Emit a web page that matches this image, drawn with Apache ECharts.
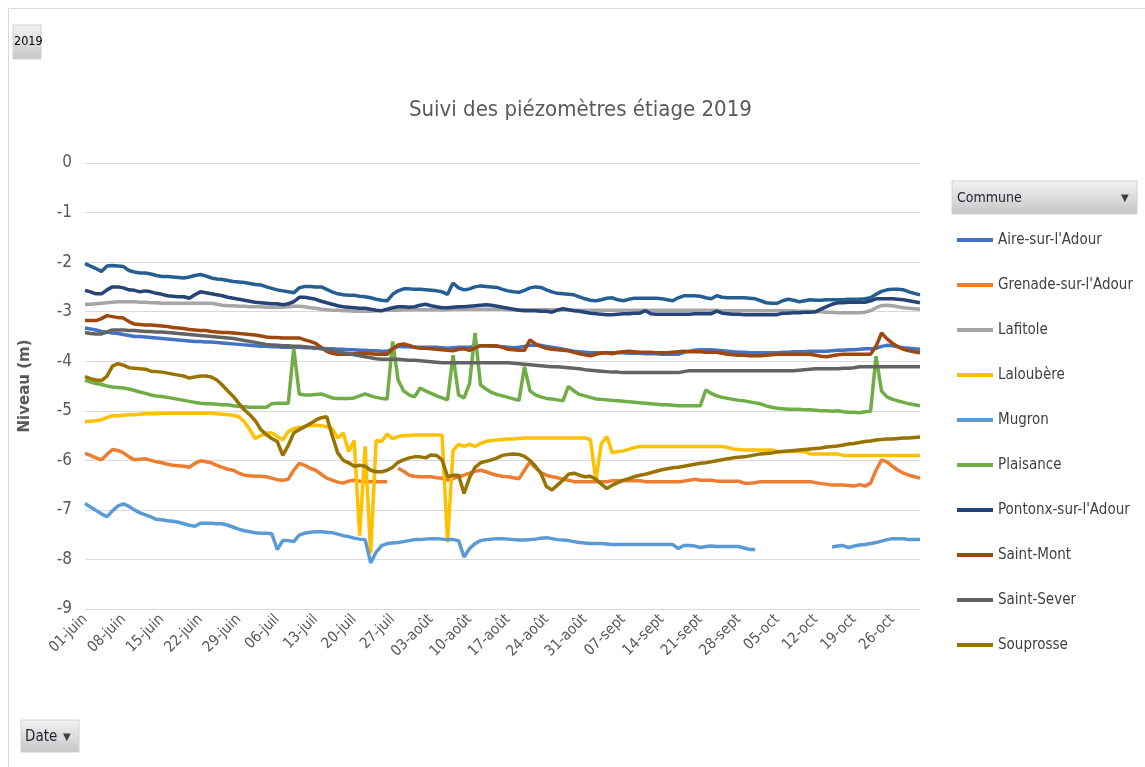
<!DOCTYPE html>
<html>
<head>
    <meta charset="utf-8">
    <title>Suivi des piézomètres étiage 2019</title>
    <script src="https://cdn.jsdelivr.net/npm/echarts/dist/echarts.min.js"></script>
    <style>
        html, body { margin: 0; padding: 0; background: #fff; }
        #main { width: 1145px; height: 767px; }
    </style>
</head>
<body>
<div id="main"></div>
<script type="text/javascript">
    // jours du 1er juin au 31 octobre 2019
    var months = ['juin', 'juil', 'août', 'sept', 'oct'];
    var monthDays = [30, 31, 31, 30, 31];
    var yTicks = [-9, -8, -7, -6, -5, -4, -3, -2, -1, 0];

    // niveaux (m), un point par jour
    var aireSurLAdour = [
        -3.33,-3.35,-3.37,-3.40,-3.41,-3.43,-3.44,-3.46,-3.48,-3.50,
        -3.50,-3.51,-3.52,-3.53,-3.54,-3.55,-3.56,-3.57,-3.58,-3.59,
        -3.60,-3.60,-3.61,-3.61,-3.62,-3.63,-3.64,-3.65,-3.66,-3.67,
        -3.68,-3.69,-3.70,-3.70,-3.71,-3.71,-3.72,-3.72,-3.72,-3.72,
        -3.73,-3.73,-3.74,-3.74,-3.75,-3.75,-3.76,-3.76,-3.77,-3.77,
        -3.78,-3.78,-3.79,-3.79,-3.80,-3.80,-3.75,-3.70,-3.71,-3.71,
        -3.72,-3.72,-3.72,-3.72,-3.72,-3.73,-3.74,-3.73,-3.72,-3.72,
        -3.72,-3.70,-3.69,-3.69,-3.70,-3.70,-3.71,-3.72,-3.73,-3.72,
        -3.70,-3.68,-3.68,-3.68,-3.70,-3.72,-3.74,-3.76,-3.78,-3.80,
        -3.81,-3.82,-3.83,-3.83,-3.83,-3.83,-3.83,-3.83,-3.83,-3.84,
        -3.84,-3.84,-3.85,-3.85,-3.85,-3.86,-3.86,-3.86,-3.86,-3.82,
        -3.80,-3.78,-3.77,-3.77,-3.77,-3.78,-3.79,-3.80,-3.81,-3.82,
        -3.82,-3.83,-3.83,-3.83,-3.83,-3.83,-3.83,-3.82,-3.82,-3.81,
        -3.81,-3.81,-3.80,-3.80,-3.80,-3.80,-3.79,-3.78,-3.78,-3.77,
        -3.77,-3.76,-3.75,-3.75,-3.74,-3.70,-3.68,-3.69,-3.71,-3.73,
        -3.74,-3.75,-3.76
    ];
    var grenadeSurLAdour = [
        -5.86,-5.90,-5.95,-5.99,-5.88,-5.78,-5.80,-5.85,-5.93,-5.99,
        -5.98,-5.97,-6.00,-6.03,-6.05,-6.08,-6.10,-6.11,-6.12,-6.14,
        -6.06,-6.01,-6.03,-6.05,-6.10,-6.14,-6.18,-6.20,-6.26,-6.30,
        -6.31,-6.32,-6.32,-6.33,-6.36,-6.39,-6.40,-6.38,-6.20,-6.06,
        -6.10,-6.16,-6.20,-6.28,-6.36,-6.40,-6.44,-6.46,-6.42,-6.40,
        -6.42,-6.43,-6.43,-6.43,-6.43,-6.43,null,-6.16,-6.22,-6.30,
        -6.32,-6.33,-6.33,-6.33,-6.35,-6.36,-6.40,-6.37,-6.33,-6.30,
        -6.26,-6.22,-6.20,-6.23,-6.27,-6.30,-6.32,-6.33,-6.35,-6.37,
        -6.20,-6.03,-6.15,-6.25,-6.30,-6.33,-6.35,-6.38,-6.40,-6.43,
        -6.43,-6.43,-6.43,-6.43,-6.43,-6.43,-6.41,-6.41,-6.41,-6.41,
        -6.41,-6.41,-6.43,-6.43,-6.43,-6.43,-6.43,-6.43,-6.43,-6.42,
        -6.40,-6.38,-6.40,-6.40,-6.40,-6.42,-6.42,-6.42,-6.42,-6.42,
        -6.46,-6.46,-6.45,-6.43,-6.43,-6.43,-6.43,-6.43,-6.43,-6.43,
        -6.43,-6.43,-6.43,-6.45,-6.47,-6.48,-6.50,-6.50,-6.50,-6.51,
        -6.52,-6.49,-6.52,-6.46,-6.20,-5.99,-6.03,-6.12,-6.20,-6.26,
        -6.30,-6.33,-6.36
    ];
    var lafitole = [
        -2.85,-2.85,-2.84,-2.83,-2.82,-2.81,-2.80,-2.80,-2.80,-2.80,
        -2.81,-2.81,-2.82,-2.82,-2.83,-2.83,-2.83,-2.83,-2.83,-2.83,
        -2.83,-2.83,-2.83,-2.83,-2.85,-2.87,-2.88,-2.88,-2.89,-2.89,
        -2.90,-2.90,-2.90,-2.91,-2.91,-2.91,-2.91,-2.90,-2.89,-2.89,
        -2.90,-2.92,-2.93,-2.95,-2.96,-2.97,-2.97,-2.98,-2.98,-2.99,
        -2.99,-2.99,-2.99,-2.98,-2.98,-2.97,-2.97,-2.97,-2.96,-2.96,
        -2.96,-2.96,-2.96,-2.96,-2.96,-2.96,-2.96,-2.95,-2.95,-2.95,
        -2.95,-2.95,-2.95,-2.95,-2.95,-2.95,-2.95,-2.96,-2.96,-2.96,
        -2.96,-2.96,-2.96,-2.96,-2.96,-2.96,-2.96,-2.96,-2.96,-2.97,
        -2.97,-2.97,-2.97,-2.97,-2.97,-2.97,-2.97,-2.97,-2.97,-2.97,
        -2.97,-2.97,-2.97,-2.97,-2.97,-2.97,-2.97,-2.97,-2.97,-2.97,
        -2.97,-2.97,-2.97,-2.97,-2.97,-2.97,-2.98,-2.98,-2.98,-2.98,
        -2.98,-2.98,-2.98,-2.98,-2.98,-2.98,-2.98,-2.98,-2.98,-2.98,
        -2.99,-2.99,-2.99,-3.00,-3.00,-3.01,-3.01,-3.02,-3.02,-3.02,
        -3.02,-3.02,-3.01,-2.98,-2.92,-2.88,-2.87,-2.88,-2.90,-2.92,
        -2.93,-2.94,-2.95
    ];
    var laloubere = [
        -5.22,-5.21,-5.20,-5.18,-5.14,-5.10,-5.10,-5.09,-5.08,-5.08,
        -5.07,-5.06,-5.06,-5.06,-5.05,-5.05,-5.05,-5.05,-5.05,-5.05,
        -5.05,-5.05,-5.05,-5.05,-5.06,-5.07,-5.08,-5.09,-5.12,-5.22,
        -5.38,-5.56,-5.50,-5.45,-5.45,-5.52,-5.59,-5.42,-5.36,-5.33,
        -5.32,-5.30,-5.29,-5.30,-5.32,-5.36,-5.55,-5.45,-5.82,-5.60,
        -7.52,-5.72,-7.88,-5.60,-5.62,-5.47,-5.56,-5.52,-5.50,-5.50,
        -5.49,-5.49,-5.49,-5.49,-5.49,-5.49,-7.65,-5.80,-5.68,-5.72,
        -5.68,-5.72,-5.66,-5.62,-5.60,-5.59,-5.58,-5.57,-5.57,-5.56,
        -5.55,-5.55,-5.55,-5.55,-5.55,-5.55,-5.55,-5.55,-5.55,-5.55,
        -5.55,-5.55,-5.58,-6.40,-5.66,-5.52,-5.85,-5.82,-5.81,-5.78,
        -5.74,-5.72,-5.72,-5.72,-5.72,-5.72,-5.72,-5.72,-5.72,-5.72,
        -5.72,-5.72,-5.72,-5.72,-5.72,-5.72,-5.72,-5.74,-5.77,-5.78,
        -5.79,-5.79,-5.79,-5.79,-5.79,-5.79,-5.82,-5.82,-5.82,-5.82,
        -5.82,-5.82,-5.87,-5.87,-5.87,-5.87,-5.87,-5.87,-5.90,-5.90,
        -5.90,-5.90,-5.90,-5.90,-5.90,-5.90,-5.90,-5.90,-5.90,-5.90,
        -5.90,-5.90,-5.90
    ];
    var mugron = [
        -6.87,-6.94,-7.01,-7.08,-7.14,-7.02,-6.92,-6.88,-6.93,-7.00,
        -7.06,-7.10,-7.14,-7.19,-7.20,-7.22,-7.23,-7.25,-7.28,-7.31,
        -7.33,-7.27,-7.27,-7.27,-7.28,-7.28,-7.31,-7.35,-7.39,-7.42,
        -7.44,-7.46,-7.47,-7.47,-7.48,-7.80,-7.62,-7.62,-7.64,-7.51,
        -7.47,-7.45,-7.44,-7.44,-7.45,-7.46,-7.49,-7.52,-7.54,-7.57,
        -7.59,-7.60,-8.07,-7.85,-7.72,-7.68,-7.67,-7.66,-7.64,-7.62,
        -7.60,-7.60,-7.59,-7.58,-7.58,-7.59,-7.60,-7.60,-7.62,-7.95,
        -7.78,-7.68,-7.62,-7.60,-7.59,-7.58,-7.58,-7.59,-7.60,-7.61,
        -7.61,-7.60,-7.59,-7.57,-7.56,-7.58,-7.60,-7.61,-7.62,-7.64,
        -7.66,-7.67,-7.68,-7.68,-7.68,-7.69,-7.70,-7.70,-7.70,-7.70,
        -7.70,-7.70,-7.70,-7.70,-7.70,-7.70,-7.70,-7.70,-7.78,-7.72,
        -7.72,-7.73,-7.76,-7.74,-7.73,-7.74,-7.74,-7.74,-7.74,-7.74,
        -7.77,-7.80,-7.80,null,null,null,null,null,null,null,
        null,null,null,null,null,null,-7.75,-7.73,-7.72,-7.76,
        -7.73,-7.71,-7.70,-7.68,-7.66,-7.63,-7.60,-7.58,-7.58,-7.58,
        -7.60,-7.60,-7.60
    ];
    var plaisance = [
        -4.38,-4.42,-4.45,-4.47,-4.50,-4.52,-4.53,-4.54,-4.56,-4.59,
        -4.62,-4.65,-4.68,-4.70,-4.71,-4.73,-4.75,-4.77,-4.79,-4.81,
        -4.83,-4.85,-4.86,-4.86,-4.87,-4.88,-4.88,-4.90,-4.91,-4.92,
        -4.93,-4.93,-4.93,-4.93,-4.86,-4.85,-4.85,-4.85,-3.74,-4.66,
        -4.68,-4.68,-4.67,-4.66,-4.70,-4.74,-4.75,-4.75,-4.75,-4.74,
        -4.70,-4.66,-4.70,-4.73,-4.75,-4.76,-3.60,-4.38,-4.60,-4.68,
        -4.72,-4.54,-4.60,-4.65,-4.70,-4.74,-4.78,-3.88,-4.68,-4.74,
        -4.45,-3.43,-4.48,-4.56,-4.63,-4.67,-4.70,-4.73,-4.76,-4.79,
        -4.11,-4.60,-4.68,-4.72,-4.75,-4.76,-4.78,-4.80,-4.51,-4.60,
        -4.67,-4.70,-4.73,-4.76,-4.77,-4.78,-4.79,-4.80,-4.81,-4.82,
        -4.83,-4.84,-4.85,-4.86,-4.87,-4.88,-4.88,-4.89,-4.90,-4.90,
        -4.90,-4.90,-4.90,-4.58,-4.65,-4.70,-4.73,-4.75,-4.77,-4.79,
        -4.80,-4.82,-4.84,-4.86,-4.90,-4.93,-4.95,-4.96,-4.97,-4.97,
        -4.97,-4.98,-4.98,-4.99,-5.00,-5.00,-5.01,-5.00,-5.02,-5.03,
        -5.03,-5.04,-5.02,-5.01,-3.90,-4.60,-4.72,-4.77,-4.80,-4.83,
        -4.86,-4.88,-4.90
    ];
    var pontonxSurLAdour = [
        -2.57,-2.60,-2.64,-2.64,-2.56,-2.50,-2.50,-2.52,-2.56,-2.57,
        -2.60,-2.58,-2.60,-2.63,-2.65,-2.68,-2.69,-2.70,-2.70,-2.73,
        -2.66,-2.60,-2.62,-2.64,-2.66,-2.68,-2.71,-2.73,-2.75,-2.77,
        -2.79,-2.81,-2.82,-2.83,-2.84,-2.84,-2.86,-2.84,-2.80,-2.71,
        -2.71,-2.73,-2.75,-2.79,-2.82,-2.85,-2.88,-2.90,-2.91,-2.92,
        -2.93,-2.93,-2.95,-2.97,-2.98,-2.95,-2.92,-2.90,-2.90,-2.91,
        -2.90,-2.87,-2.85,-2.88,-2.90,-2.92,-2.92,-2.91,-2.90,-2.90,
        -2.89,-2.88,-2.87,-2.86,-2.87,-2.89,-2.91,-2.93,-2.95,-2.97,
        -2.98,-2.98,-2.98,-2.99,-2.99,-3.01,-2.97,-2.94,-2.96,-2.98,
        -2.99,-3.01,-3.03,-3.04,-3.05,-3.06,-3.06,-3.05,-3.04,-3.04,
        -3.03,-3.03,-2.98,-3.04,-3.05,-3.05,-3.05,-3.05,-3.05,-3.05,
        -3.05,-3.04,-3.04,-3.04,-3.04,-2.99,-3.03,-3.04,-3.05,-3.05,
        -3.06,-3.06,-3.06,-3.06,-3.06,-3.06,-3.06,-3.03,-3.03,-3.02,
        -3.02,-3.01,-3.01,-3.00,-2.95,-2.90,-2.85,-2.82,-2.82,-2.81,
        -2.81,-2.81,-2.81,-2.78,-2.74,-2.74,-2.74,-2.74,-2.75,-2.76,
        -2.78,-2.80,-2.82
    ];
    var saintMont = [
        -3.18,-3.18,-3.18,-3.14,-3.08,-3.10,-3.12,-3.13,-3.20,-3.25,
        -3.26,-3.27,-3.27,-3.28,-3.29,-3.30,-3.32,-3.33,-3.34,-3.36,
        -3.37,-3.38,-3.38,-3.40,-3.41,-3.42,-3.42,-3.43,-3.44,-3.45,
        -3.46,-3.47,-3.49,-3.51,-3.52,-3.52,-3.53,-3.53,-3.53,-3.53,
        -3.57,-3.60,-3.64,-3.72,-3.80,-3.84,-3.86,-3.86,-3.86,-3.85,
        -3.84,-3.84,-3.85,-3.86,-3.86,-3.86,-3.75,-3.67,-3.65,-3.68,
        -3.72,-3.74,-3.74,-3.75,-3.76,-3.77,-3.78,-3.79,-3.76,-3.75,
        -3.78,-3.73,-3.69,-3.69,-3.69,-3.69,-3.72,-3.76,-3.77,-3.78,
        -3.78,-3.57,-3.65,-3.70,-3.74,-3.76,-3.77,-3.78,-3.79,-3.82,
        -3.85,-3.87,-3.89,-3.86,-3.84,-3.83,-3.85,-3.82,-3.81,-3.80,
        -3.81,-3.82,-3.82,-3.82,-3.83,-3.83,-3.83,-3.82,-3.81,-3.80,
        -3.81,-3.81,-3.81,-3.82,-3.82,-3.82,-3.84,-3.86,-3.87,-3.88,
        -3.88,-3.89,-3.89,-3.89,-3.88,-3.87,-3.86,-3.86,-3.86,-3.86,
        -3.86,-3.86,-3.86,-3.88,-3.90,-3.91,-3.89,-3.87,-3.86,-3.86,
        -3.86,-3.86,-3.86,-3.86,-3.70,-3.43,-3.55,-3.64,-3.71,-3.76,
        -3.79,-3.81,-3.83
    ];
    var saintSever = [
        -3.42,-3.44,-3.45,-3.45,-3.41,-3.37,-3.37,-3.37,-3.38,-3.38,
        -3.39,-3.40,-3.40,-3.41,-3.41,-3.42,-3.43,-3.44,-3.45,-3.46,
        -3.47,-3.48,-3.49,-3.50,-3.51,-3.52,-3.53,-3.54,-3.56,-3.58,
        -3.60,-3.62,-3.64,-3.66,-3.67,-3.68,-3.69,-3.69,-3.70,-3.70,
        -3.71,-3.72,-3.73,-3.75,-3.77,-3.78,-3.80,-3.83,-3.85,-3.87,
        -3.89,-3.91,-3.93,-3.95,-3.96,-3.96,-3.96,-3.96,-3.97,-3.98,
        -3.98,-3.99,-4.00,-4.01,-4.02,-4.03,-4.03,-4.03,-4.03,-4.03,
        -4.03,-4.03,-4.03,-4.03,-4.03,-4.03,-4.03,-4.03,-4.04,-4.05,
        -4.06,-4.07,-4.08,-4.09,-4.10,-4.11,-4.11,-4.12,-4.13,-4.14,
        -4.15,-4.17,-4.18,-4.19,-4.20,-4.21,-4.22,-4.22,-4.23,-4.23,
        -4.23,-4.23,-4.23,-4.23,-4.23,-4.23,-4.23,-4.23,-4.23,-4.21,
        -4.19,-4.19,-4.19,-4.19,-4.19,-4.19,-4.19,-4.19,-4.19,-4.19,
        -4.19,-4.19,-4.19,-4.19,-4.19,-4.19,-4.19,-4.19,-4.19,-4.19,
        -4.18,-4.17,-4.16,-4.15,-4.15,-4.15,-4.15,-4.15,-4.14,-4.14,
        -4.13,-4.11,-4.11,-4.11,-4.11,-4.11,-4.11,-4.11,-4.11,-4.11,
        -4.11,-4.11,-4.11
    ];
    var souprosse = [
        -4.31,-4.35,-4.38,-4.39,-4.30,-4.10,-4.05,-4.08,-4.13,-4.14,
        -4.15,-4.16,-4.20,-4.21,-4.22,-4.24,-4.26,-4.28,-4.30,-4.34,
        -4.32,-4.30,-4.30,-4.32,-4.38,-4.48,-4.60,-4.71,-4.85,-4.98,
        -5.08,-5.20,-5.38,-5.48,-5.56,-5.62,-5.90,-5.70,-5.45,-5.38,
        -5.32,-5.26,-5.19,-5.14,-5.12,-5.50,-5.85,-6.00,-6.05,-6.12,
        -6.10,-6.12,-6.20,-6.23,-6.23,-6.20,-6.14,-6.04,-5.99,-5.95,
        -5.93,-5.93,-5.95,-5.89,-5.90,-5.99,-6.33,-6.30,-6.30,-6.67,
        -6.35,-6.14,-6.05,-6.02,-5.99,-5.95,-5.90,-5.88,-5.87,-5.88,
        -5.92,-6.00,-6.12,-6.26,-6.53,-6.60,-6.50,-6.40,-6.28,-6.26,
        -6.30,-6.33,-6.32,-6.38,-6.48,-6.57,-6.50,-6.45,-6.40,-6.37,
        -6.33,-6.30,-6.28,-6.25,-6.22,-6.19,-6.17,-6.15,-6.14,-6.12,
        -6.10,-6.08,-6.06,-6.05,-6.03,-6.01,-5.99,-5.97,-5.95,-5.94,
        -5.93,-5.91,-5.89,-5.87,-5.86,-5.85,-5.83,-5.82,-5.81,-5.80,
        -5.79,-5.78,-5.77,-5.76,-5.75,-5.73,-5.72,-5.71,-5.69,-5.67,
        -5.66,-5.64,-5.62,-5.61,-5.59,-5.58,-5.57,-5.57,-5.56,-5.55,
        -5.55,-5.54,-5.53
    ];
    // 11e courbe tracée mais absente de la légende visible
    var serie11 = [
        -2.03,-2.08,-2.13,-2.19,-2.08,-2.07,-2.08,-2.09,-2.17,-2.20,
        -2.22,-2.22,-2.24,-2.27,-2.29,-2.29,-2.30,-2.31,-2.32,-2.30,
        -2.27,-2.25,-2.28,-2.32,-2.34,-2.35,-2.37,-2.39,-2.40,-2.41,
        -2.43,-2.45,-2.46,-2.50,-2.53,-2.56,-2.58,-2.60,-2.62,-2.52,
        -2.49,-2.49,-2.50,-2.50,-2.55,-2.60,-2.64,-2.66,-2.67,-2.67,
        -2.69,-2.70,-2.72,-2.75,-2.77,-2.78,-2.65,-2.58,-2.54,-2.54,
        -2.55,-2.55,-2.56,-2.57,-2.58,-2.60,-2.65,-2.42,-2.52,-2.56,
        -2.54,-2.50,-2.48,-2.49,-2.50,-2.51,-2.55,-2.58,-2.60,-2.61,
        -2.57,-2.52,-2.50,-2.51,-2.56,-2.60,-2.63,-2.64,-2.65,-2.66,
        -2.70,-2.74,-2.77,-2.78,-2.76,-2.73,-2.72,-2.76,-2.78,-2.75,
        -2.73,-2.73,-2.73,-2.73,-2.73,-2.74,-2.76,-2.78,-2.72,-2.68,
        -2.68,-2.68,-2.69,-2.72,-2.74,-2.68,-2.71,-2.72,-2.72,-2.72,
        -2.72,-2.73,-2.74,-2.78,-2.82,-2.83,-2.83,-2.78,-2.75,-2.77,
        -2.80,-2.78,-2.76,-2.77,-2.77,-2.76,-2.76,-2.76,-2.76,-2.75,
        -2.75,-2.75,-2.74,-2.72,-2.65,-2.59,-2.56,-2.55,-2.55,-2.56,
        -2.60,-2.63,-2.66
    ];

    var communes = ["Aire-sur-l'Adour", "Grenade-sur-l'Adour", "Lafitole", "Laloubère", "Mugron",
        "Plaisance", "Pontonx-sur-l'Adour", "Saint-Mont", "Saint-Sever", "Souprosse"];
    var couleurs = ['#4472C4', '#ED7D31', '#A5A5A5', '#FFC000', '#5B9BD5',
        '#70AD47', '#264478', '#9E480E', '#636363', '#997300', '#255E91'];
    var valeurs = [aireSurLAdour, grenadeSurLAdour, lafitole, laloubere, mugron,
        plaisance, pontonxSurLAdour, saintMont, saintSever, souprosse, serie11];
    var noms = communes.concat(['Autre piézomètre']);

    var dates = [];
    for (var m = 0; m < months.length; m++) {
        for (var d = 1; d <= monthDays[m]; d++) {
            dates.push((d < 10 ? '0' + d : '' + d) + '-' + months[m]);
        }
    }

    var narrow = "'Liberation Sans Narrow', 'DejaVu Sans Condensed', 'Roboto', sans-serif";
    var grisBouton = new echarts.graphic.LinearGradient(0, 0, 0, 1, [
        {offset: 0, color: '#f3f3f3'}, {offset: 1, color: '#c6c6c6'}
    ]);

    var series = [];
    for (var i = 0; i < valeurs.length; i++) {
        series.push({
            name: noms[i],
            type: 'line',
            data: valeurs[i],
            showSymbol: false,
            symbol: 'none',
            connectNulls: false,
            color: couleurs[i],
            lineStyle: {width: 3.5, color: couleurs[i]}
        });
    }

    var myChart = echarts.init(document.getElementById('main'));
    var option = {
        animation: false,
        backgroundColor: '#fff',
        title: {
            text: 'Suivi des piézomètres étiage 2019',
            left: 404,
            top: 94,
            textStyle: {fontFamily: narrow, fontSize: 22, fontWeight: 'normal', color: '#595959'}
        },
        legend: {
            data: communes,
            orient: 'vertical',
            left: 957,
            top: 232,
            padding: 0,
            icon: 'rect',
            itemWidth: 36,
            itemHeight: 4,
            itemGap: 29,
            textStyle: {fontFamily: narrow, fontSize: 15, lineHeight: 16, color: '#404040'}
        },
        grid: {left: 85, right: 225, top: 163, bottom: 158},
        xAxis: {
            type: 'category',
            data: dates,
            boundaryGap: false,
            axisLine: {show: false},
            axisTick: {show: false},
            axisLabel: {
                interval: 6,
                rotate: 45,
                margin: 8,
                color: '#595959',
                fontFamily: narrow,
                fontSize: 15
            }
        },
        yAxis: {
            type: 'value',
            min: yTicks[0],
            max: yTicks[yTicks.length - 1],
            interval: 1,
            name: 'Niveau (m)',
            nameLocation: 'middle',
            nameRotate: 90,
            nameGap: 52,
            nameTextStyle: {fontFamily: "'DejaVu Sans', sans-serif", fontSize: 15, fontWeight: 'bold', color: '#595959'},
            axisLine: {show: false},
            axisTick: {show: false},
            axisLabel: {margin: 13, color: '#595959', fontFamily: narrow, fontSize: 17},
            splitLine: {lineStyle: {color: '#d9d9d9', width: 1}}
        },
        graphic: [
            {type: 'rect', shape: {x: 8.5, y: 8.5, width: 1150, height: 770}, style: {fill: null, stroke: '#d9d9d9', lineWidth: 1}, silent: true},
            // bouton 2019
            {type: 'rect', shape: {x: 13, y: 25, width: 28, height: 34}, style: {fill: grisBouton, stroke: '#d0d0d0'}},
            {type: 'text', x: 14, y: 42, style: {text: '2019', fill: '#000', font: '12.5px ' + narrow, verticalAlign: 'middle'}},
            // bouton Commune
            {type: 'rect', shape: {x: 952, y: 181, width: 185, height: 33}, style: {fill: grisBouton, stroke: '#d0d0d0'}},
            {type: 'text', x: 957, y: 198, style: {text: 'Commune', fill: '#1f1f33', font: '14px ' + narrow, verticalAlign: 'middle'}},
            {type: 'text', x: 1121, y: 198, style: {text: '▼', fill: '#404040', font: '10px DejaVu Sans', verticalAlign: 'middle'}},
            // bouton Date
            {type: 'rect', shape: {x: 21, y: 720, width: 58, height: 32}, style: {fill: grisBouton, stroke: '#d0d0d0'}},
            {type: 'text', x: 25, y: 737, style: {text: 'Date', fill: '#1f1f33', font: '15px ' + narrow, verticalAlign: 'middle'}},
            {type: 'text', x: 63, y: 737, style: {text: '▼', fill: '#404040', font: '10px DejaVu Sans', verticalAlign: 'middle'}}
        ],
        series: series
    };
    myChart.setOption(option);
</script>
</body>
</html>
